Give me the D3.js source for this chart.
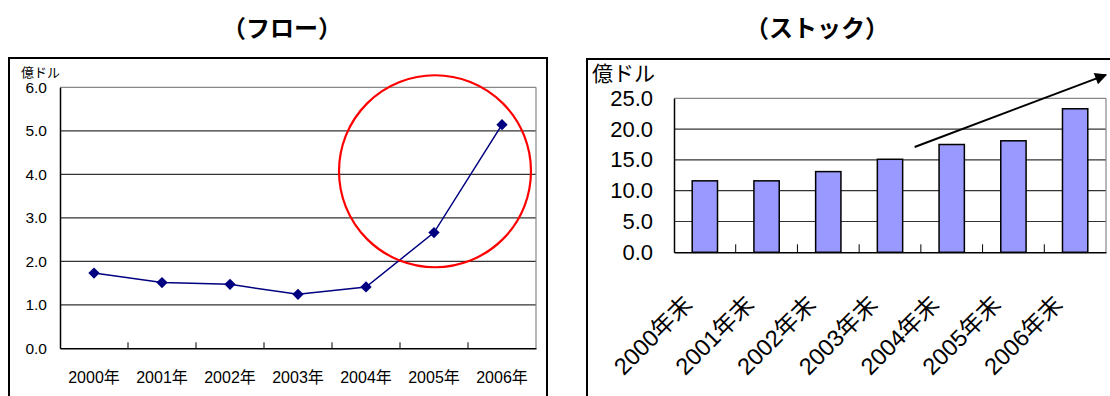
<!DOCTYPE html>
<html>
<head>
<meta charset="utf-8">
<script src="https://cdn.jsdelivr.net/npm/d3@7"></script>
<style>
  body { margin: 0; background: #fff; }
  svg text { font-family: "Liberation Sans", Arial, "Noto Sans CJK JP", sans-serif; }
</style>
</head>
<body>
<svg id="chart" width="1110" height="396"></svg>
<script>
// flow (left): annual investment, 100m USD
var flowYears = ["2000年", "2001年", "2002年", "2003年", "2004年", "2005年", "2006年"];
var flowValues = [1.73, 1.51, 1.47, 1.24, 1.41, 2.66, 5.14];
var flowTicks = [0, 1, 2, 3, 4, 5, 6];

// stock (right): year-end balance
var stockYears = ["2000年末", "2001年末", "2002年末", "2003年末", "2004年末", "2005年末", "2006年末"];
var stockValues = [11.6, 11.6, 13.1, 15.1, 17.5, 18.1, 23.3];
var stockTicks = [0, 5, 10, 15, 20, 25];

var svg = d3.select("#chart");
var cjk = '"Noto Sans CJK JP", sans-serif';

svg.append("defs").append("marker")
	.attr("id", "head")
	.attr("viewBox", "0 0 10 10")
	.attr("refX", 9).attr("refY", 5)
	.attr("markerWidth", 8).attr("markerHeight", 6)
	.attr("markerUnits", "strokeWidth")
	.attr("orient", "auto")
	.append("path")
	.attr("d", "M0,0L10,5L0,10z")
	.attr("fill", "#000");

// ---------- titles ----------
svg.append("text").attr("x", 282).attr("y", 37)
	.attr("text-anchor", "middle").style("font-family", cjk)
	.style("font-weight", "bold").style("font-size", "24px")
	.text("（フロー）");
svg.append("text").attr("x", 817).attr("y", 37)
	.attr("text-anchor", "middle").style("font-family", cjk)
	.style("font-weight", "bold").style("font-size", "24px")
	.text("（ストック）");

// ---------- chart frames ----------
svg.append("rect").attr("x", 9).attr("y", 58).attr("width", 538).attr("height", 345)
	.attr("fill", "none").attr("stroke", "#000").attr("stroke-width", 2);
svg.append("rect").attr("x", 587).attr("y", 59).attr("width", 540).attr("height", 345)
	.attr("fill", "none").attr("stroke", "#000").attr("stroke-width", 2);

// ---------- left: flow line chart ----------
var x1 = d3.scaleBand().domain(flowYears).range([60, 536]);
var y1 = d3.scaleLinear().domain([0, 6]).range([348.3, 87.3]);
var g1 = svg.append("g");

g1.selectAll("line.grid").data(flowTicks.slice(1)).enter().append("line")
	.attr("class", "grid")
	.attr("x1", 60).attr("x2", 536)
	.attr("y1", function(d) { return y1(d); })
	.attr("y2", function(d) { return y1(d); })
	.attr("stroke", function(d) { return d == 6 ? "#888" : "#333"; })
	.attr("stroke-width", 1.2);
g1.append("line").attr("x1", 536).attr("x2", 536).attr("y1", y1(6)).attr("y2", y1(0))
	.attr("stroke", "#888").attr("stroke-width", 1.2);

var xAxis1 = d3.axisBottom(x1).tickSize(-6).tickFormat("").tickSizeOuter(0);
g1.append("g").attr("transform", "translate(0," + y1(0) + ")").call(xAxis1)
	.call(function(g) {
		g.select(".domain").attr("stroke", "#000").attr("stroke-width", 1.5);
		g.selectAll(".tick line").attr("stroke", "#000")
			.attr("transform", function() { return "translate(" + (x1.bandwidth() / 2) + ",0)"; });
		g.selectAll(".tick").filter(function(d, i) { return i == flowYears.length - 1; }).remove();
	});

g1.selectAll("text.xl").data(flowYears).enter().append("text")
	.attr("x", function(d) { return x1(d) + x1.bandwidth() / 2; })
	.attr("y", 383)
	.attr("text-anchor", "middle")
	.style("font-size", "16px")
	.text(function(d) { return d; });

var yAxis1 = d3.axisLeft(y1).tickValues(flowTicks).tickFormat(d3.format(".1f")).tickSize(0).tickPadding(13);
g1.append("g").attr("transform", "translate(60,0)").call(yAxis1)
	.call(function(g) {
		g.select(".domain").attr("stroke", "#000").attr("stroke-width", 1.5);
		g.selectAll("text").style("font-size", "15.5px").attr("fill", "#000")
			.style("font-family", '"Liberation Sans", Arial, sans-serif');
	});

g1.append("text").attr("x", 21).attr("y", 77)
	.style("font-size", "13px").style("font-family", cjk).text("億ドル");

var line = d3.line()
	.x(function(d, i) { return x1(flowYears[i]) + x1.bandwidth() / 2; })
	.y(function(d) { return y1(d); });
g1.append("path").datum(flowValues).attr("d", line)
	.attr("fill", "none").attr("stroke", "#000080").attr("stroke-width", 1.5);
g1.selectAll("path.pt").data(flowValues).enter().append("path")
	.attr("class", "pt")
	.attr("d", d3.symbol().type(d3.symbolSquare).size(64))
	.attr("transform", function(d, i) {
		return "translate(" + (x1(flowYears[i]) + x1.bandwidth() / 2) + "," + y1(d) + ") rotate(45)";
	})
	.attr("fill", "#000080");

// highlight circle around 2005-2006
g1.append("circle")
	.attr("cx", x1("2005年") + x1.bandwidth() / 2 + 1)
	.attr("cy", y1(4.07))
	.attr("r", 96)
	.attr("fill", "none").attr("stroke", "#ff0000").attr("stroke-width", 2.2);

// ---------- right: stock bar chart ----------
var x2 = d3.scaleBand().domain(stockYears).range([674, 1106]).paddingInner(0.59).paddingOuter(0.295);
var y2 = d3.scaleLinear().domain([0, 25]).range([252.3, 98.3]);
var g2 = svg.append("g");

g2.selectAll("line.grid").data(stockTicks.slice(1)).enter().append("line")
	.attr("class", "grid")
	.attr("x1", 674).attr("x2", 1106)
	.attr("y1", function(d) { return y2(d); })
	.attr("y2", function(d) { return y2(d); })
	.attr("stroke", function(d) { return d == 25 ? "#888" : "#333"; })
	.attr("stroke-width", 1.2);
g2.append("line").attr("x1", 1106).attr("x2", 1106).attr("y1", y2(25)).attr("y2", y2(0))
	.attr("stroke", "#888").attr("stroke-width", 1.2);

g2.selectAll("rect.bar").data(stockValues).enter().append("rect")
	.attr("class", "bar")
	.attr("x", function(d, i) { return x2(stockYears[i]); })
	.attr("y", function(d) { return y2(d); })
	.attr("width", x2.bandwidth())
	.attr("height", function(d) { return y2(0) - y2(d); })
	.attr("fill", "#9999ff").attr("stroke", "#000").attr("stroke-width", 1.5);

var step2 = x2.step();
var xAxis2 = d3.axisBottom(x2).tickSize(-8).tickFormat("").tickSizeOuter(0);
g2.append("g").attr("transform", "translate(0," + y2(0) + ")").call(xAxis2)
	.call(function(g) {
		g.select(".domain").attr("stroke", "#000").attr("stroke-width", 1.5);
		g.selectAll(".tick line").attr("stroke", "#000")
			.attr("transform", "translate(" + (step2 / 2) + ",0)");
		g.selectAll(".tick").filter(function(d, i) { return i == stockYears.length - 1; }).remove();
	});

g2.selectAll("text.xl").data(stockYears).enter().append("text")
	.attr("transform", function(d) {
		return "translate(" + (x2(d) + x2.bandwidth() / 2 - 11) + ",306) rotate(-45)";
	})
	.attr("text-anchor", "end")
	.style("font-size", "23.5px")
	.text(function(d) { return d; });

var yAxis2 = d3.axisLeft(y2).tickValues(stockTicks).tickFormat(d3.format(".1f")).tickSize(0).tickPadding(21);
g2.append("g").attr("transform", "translate(674,0)").call(yAxis2)
	.call(function(g) {
		g.select(".domain").attr("stroke", "#000").attr("stroke-width", 1.5);
		g.selectAll("text").style("font-size", "22px").attr("fill", "#000")
			.style("font-family", '"Liberation Sans", Arial, sans-serif');
	});

g2.append("text").attr("x", 592).attr("y", 81)
	.style("font-size", "21px").style("font-family", cjk).text("億ドル");

// upward trend arrow
g2.append("line")
	.attr("x1", x2("2003年末") + x2.bandwidth() + 12).attr("y1", y2(17.1))
	.attr("x2", 1106).attr("y2", y2(28.8))
	.attr("stroke", "#000").attr("stroke-width", 2)
	.attr("marker-end", "url(#head)");
</script>
</body>
</html>
